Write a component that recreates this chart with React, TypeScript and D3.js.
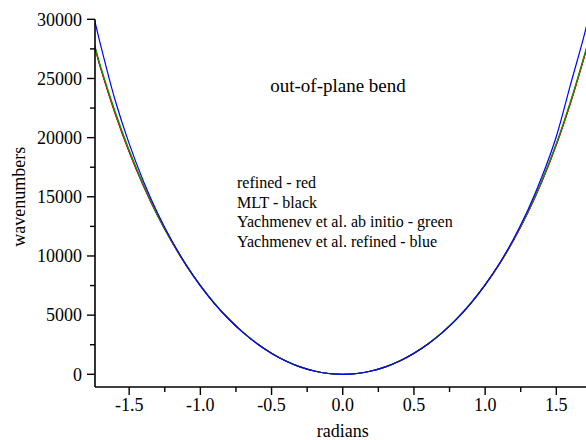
import React from "react";
import * as d3 from "d3";

const radians = [-1.75, -1.7, -1.6, -1.5, -1.4, -1.3, -1.2, -1.1, -1.0, -0.9, -0.8, -0.7, -0.6, -0.5, -0.4, -0.3, -0.2, -0.1, 0,
  0.1, 0.2, 0.3, 0.4, 0.5, 0.6, 0.7, 0.8, 0.9, 1.0, 1.1, 1.2, 1.3, 1.4, 1.5, 1.6, 1.7, 1.75];

const refinedRed = [28050, 25850, 22080, 18800, 15930, 13400, 11180, 9210, 7490, 5980, 4670, 3540, 2580, 1780, 1130, 630, 280, 70, 0,
  70, 280, 630, 1130, 1780, 2580, 3545, 4680, 6010, 7550, 9310, 11340, 13660, 16330, 19400, 22950, 26980, 29150];

const mltBlack = [28070, 25870, 22100, 18810, 15940, 13405, 11185, 9212, 7492, 5981, 4671, 3541, 2580, 1780, 1130, 630, 280, 70, 0,
  70, 280, 630, 1130, 1780, 2580, 3546, 4682, 6012, 7552, 9315, 11345, 13668, 16340, 19415, 22970, 27000, 29180];

const abInitioGreen = [28150, 26000, 22250, 18950, 16030, 13470, 11230, 9250, 7520, 6000, 4690, 3555, 2590, 1787, 1134, 632, 281, 70, 0,
  70, 281, 632, 1134, 1787, 2590, 3556, 4695, 6030, 7575, 9345, 11385, 13720, 16420, 19500, 23080, 27100, 29250];

const refinedBlue = [30300, 27800, 23220, 19490, 16320, 13610, 11280, 9250, 7480, 5960, 4650, 3520, 2560, 1765, 1120, 625, 278, 70, 0,
  70, 278, 625, 1120, 1768, 2565, 3525, 4660, 6000, 7560, 9360, 11450, 13880, 16730, 20100, 24500, 28850, 31500];

const series = [
  { name: "MLT", values: mltBlack, color: "#000000" },
  { name: "refined", values: refinedRed, color: "#ff0000" },
  { name: "Yachmenev et al. ab initio", values: abInitioGreen, color: "#00a000" },
  { name: "Yachmenev et al. refined", values: refinedBlue, color: "#0000ff" },
];

const xMajorTicks = [-1.5, -1.0, -0.5, 0.0, 0.5, 1.0, 1.5];
const xMinorTicks = [-1.25, -0.75, -0.25, 0.25, 0.75, 1.25];
const yMajorTicks = [0, 5000, 10000, 15000, 20000, 25000, 30000];
const yMinorTicks = [2500, 7500, 12500, 17500, 22500, 27500];

const legendLines = [
  "refined - red",
  "MLT - black",
  "Yachmenev et al. ab initio - green",
  "Yachmenev et al. refined - blue",
];

const titleText = "out-of-plane bend";
const xTitle = "radians";
const yTitle = "wavenumbers";

const W = 586;
const H = 440;
const FONT = "'Liberation Serif', 'Times New Roman', serif";

export default function App() {
  const x = d3.scaleLinear().domain([-1.74, 1.74]).range([95, 590.5]);
  const y = d3.scaleLinear().domain([-1073, 30000]).range([387, 19.3]);
  const left = 95;
  const bottom = 387;
  const right = W;

  const line = d3
    .line<number>()
    .x((_, i) => x(radians[i]))
    .y((d) => y(d))
    .curve(d3.curveCatmullRom.alpha(0.5));

  const fmtX = (v: number) => v.toFixed(1);

  return (
    <svg
      width={W}
      height={H}
      style={{ position: "absolute", left: 0, top: 0, background: "#fff" }}
      fontFamily={FONT}
    >
      <defs>
        <clipPath id="plotClip">
          <rect x={left} y={0} width={right - left} height={bottom} />
        </clipPath>
      </defs>
      <rect x={0} y={0} width={W} height={H} fill="#fff" />

      <g clipPath="url(#plotClip)">
        {series.map((s) => (
          <path key={s.name} d={line(s.values) || ""} fill="none" stroke={s.color} strokeWidth={1.2} />
        ))}
      </g>

      <line x1={left} x2={left} y1={y(30000)} y2={bottom} stroke="#000" strokeWidth={1.6} />
      <line x1={left} x2={right} y1={bottom} y2={bottom} stroke="#000" strokeWidth={1.6} />

      {yMajorTicks.map((t) => (
        <g key={"ym" + t}>
          <line x1={left - 8} x2={left} y1={y(t)} y2={y(t)} stroke="#000" strokeWidth={1.4} />
          <text x={left - 13} y={y(t)} dy="0.35em" textAnchor="end" fontSize={18}>
            {t}
          </text>
        </g>
      ))}
      {yMinorTicks.map((t) => (
        <line key={"yn" + t} x1={left - 5} x2={left} y1={y(t)} y2={y(t)} stroke="#000" strokeWidth={1.4} />
      ))}

      {xMajorTicks.map((t) => (
        <g key={"xm" + t}>
          <line x1={x(t)} x2={x(t)} y1={bottom} y2={bottom + 8} stroke="#000" strokeWidth={1.4} />
          <text x={x(t)} y={bottom + 24} textAnchor="middle" fontSize={18}>
            {fmtX(t)}
          </text>
        </g>
      ))}
      {xMinorTicks.map((t) => (
        <line key={"xn" + t} x1={x(t)} x2={x(t)} y1={bottom} y2={bottom + 5} stroke="#000" strokeWidth={1.4} />
      ))}

      <text x={x(0)} y={437} textAnchor="middle" fontSize={18}>
        {xTitle}
      </text>
      <text
        transform={`translate(25, ${y(15000)}) rotate(-90)`}
        textAnchor="middle"
        fontSize={18}
      >
        {yTitle}
      </text>

      <text x={338} y={92} textAnchor="middle" fontSize={19}>
        {titleText}
      </text>

      {legendLines.map((l, i) => (
        <text key={l} x={237} y={188 + i * 19.6} fontSize={16}>
          {l}
        </text>
      ))}
    </svg>
  );
}
